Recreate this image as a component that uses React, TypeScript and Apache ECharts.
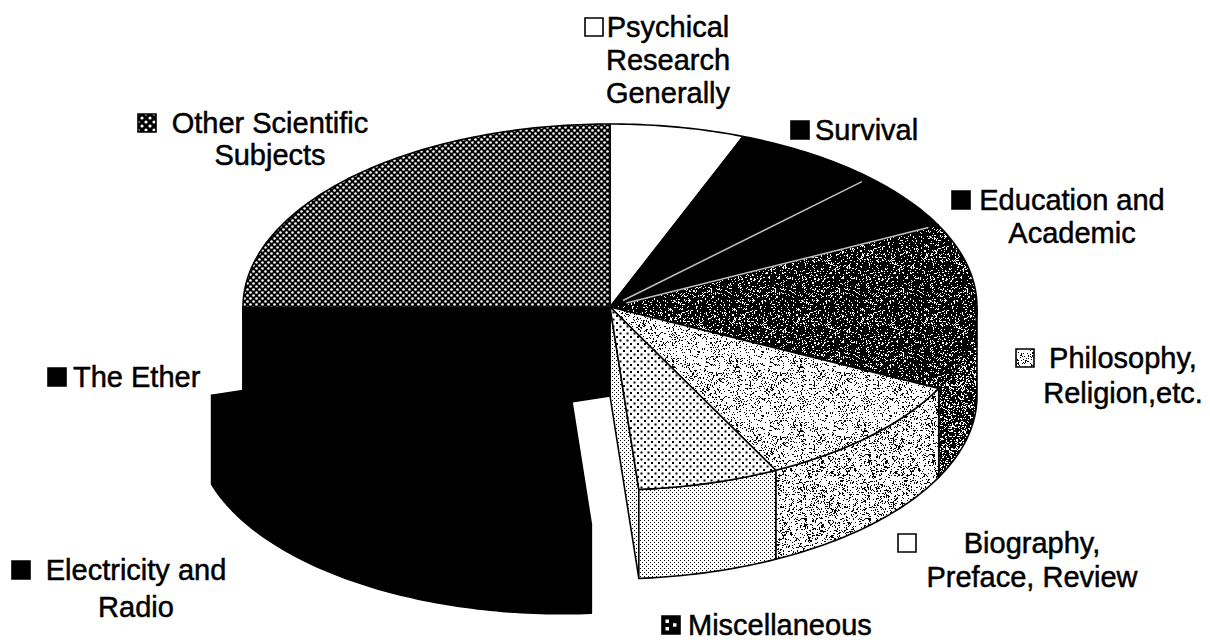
import React, { useEffect, useRef } from "react";
import * as echarts from "echarts";

// ---------- data ----------
const categories = [
  "Psychical Research Generally",
  "Survival",
  "Education and Academic",
  "Philosophy, Religion,etc.",
  "Biography, Preface, Review",
  "Miscellaneous",
  "Electricity and Radio",
  "The Ether",
  "Other Scientific Subjects",
];
const shares = [5.9, 6.6, 5.1, 14.7, 10.2, 6.2, 21.5, 4.7, 25.0];
const explodedFlags = [0, 0, 0, 0, 0, 0, 1, 0, 0];
const labelLines = [
  ["Psychical", "Research", "Generally"],
  ["Survival"],
  ["Education and", "Academic"],
  ["Philosophy,", "Religion,etc."],
  ["Biography,", "Preface, Review"],
  ["Miscellaneous"],
  ["Electricity and", "Radio"],
  ["The Ether"],
  ["Other Scientific", "Subjects"],
];

// ---------- layout / style ----------
const GEOM = { cx: 610, cy: 307, ra: 367, rb: 183, depth: 89, explode: 0.23 };
const FONT = '29px "Liberation Sans", Arial, sans-serif';
const KEY = 18;
const labelLayout = [
  { keyX: 585, x: 668, y: 27, gap: 33, align: "center" },
  { keyX: 791, x: 815, y: 130, gap: 33, align: "left" },
  { keyX: 952, x: 1072, y: 200, gap: 33, align: "center" },
  { keyX: 1016, x: 1123, y: 358, gap: 35, align: "center" },
  { keyX: 898, x: 1032, y: 543, gap: 34, align: "center" },
  { keyX: 662, x: 688, y: 625, gap: 33, align: "left" },
  { keyX: 12, x: 136, y: 570, gap: 37, align: "center" },
  { keyX: 48, x: 73, y: 377, gap: 33, align: "left" },
  { keyX: 138, x: 270, y: 123, gap: 32, align: "center" },
];
const whiteEdgeStart = [0, 0, 1, 1, 0, 0, 0, 0, 0];

const rad = (d: number) => (d * Math.PI) / 180;
function pt(deg: number, r: number, z: number, ox: number, oy: number) {
  const t = rad(deg);
  return [
    GEOM.cx + ox + GEOM.ra * r * Math.sin(t),
    GEOM.cy + oy - GEOM.rb * r * Math.cos(t) + z * GEOM.depth,
  ];
}
function arc(d1: number, d2: number, z: number, ox: number, oy: number) {
  const n = Math.max(2, Math.ceil(Math.abs(d2 - d1)) + 1);
  const out: number[][] = [];
  for (let i = 0; i < n; i++) out.push(pt(d1 + ((d2 - d1) * i) / (n - 1), 1, z, ox, oy));
  return out;
}

function tile(w: number, h: number, draw: (c: CanvasRenderingContext2D) => void) {
  const cv = document.createElement("canvas");
  cv.width = w;
  cv.height = h;
  const ctx = cv.getContext("2d") as CanvasRenderingContext2D;
  draw(ctx);
  return { image: cv.toDataURL(), repeat: "repeat", imageWidth: w, imageHeight: h };
}
const hsh = (x: number, y: number, s: number) => {
  const v = Math.sin(x * 127.1 + y * 311.7 + s * 74.7) * 43758.5453;
  return v - Math.floor(v);
};
function noise(size: number, thr: number, seed: number) {
  return tile(size, size, (c) => {
    c.fillStyle = "#fff";
    c.fillRect(0, 0, size, size);
    c.fillStyle = "#000";
    for (let y = 0; y < size; y++)
      for (let x = 0; x < size; x++) {
        const n = 0.65 * hsh(x, y, seed) + 0.35 * hsh(Math.floor(x / 2), Math.floor(y / 2), seed + 3);
        if (n < thr) c.fillRect(x, y, 1, 1);
      }
  });
}
function checker(size: number, r: number) {
  return tile(size, size, (c) => {
    c.fillStyle = "#000";
    c.fillRect(0, 0, size, size);
    c.fillStyle = "#fff";
    const q = size / 4;
    [[q, q], [3 * q, 3 * q]].forEach(([x, y]) => {
      c.beginPath();
      c.arc(x, y, r, 0, Math.PI * 2);
      c.fill();
    });
  });
}
function dots(size: number, d: number) {
  return tile(size, size, (c) => {
    c.fillStyle = "#fff";
    c.fillRect(0, 0, size, size);
    c.fillStyle = "#000";
    c.fillRect(0, 0, d, d);
    c.fillRect(size / 2, size / 2, d, d);
  });
}

export default function App() {
  const ref = useRef<HTMLDivElement>(null);
  useEffect(() => {
    document.body.style.margin = "0";
    if (!ref.current) return;
    const chart = echarts.init(ref.current, undefined, { renderer: "svg" });

    const black = "#000";
    const white = "#fff";
    const chk = checker(6, 1.3);
    const darkN = noise(64, 0.72, 1);
    const darkSide = noise(64, 0.66, 7);
    const lightN = noise(64, 0.28, 2);
    const lightSide = noise(64, 0.32, 5);
    const coarse = dots(7, 2);
    const fine = dots(4, 1);
    const TOP: any[] = [white, black, black, darkN, lightN, coarse, black, black, chk];
    const SIDE: any[] = [white, black, black, darkSide, lightSide, fine, black, black, chk];
    const WALL: any[] = [white, black, black, darkSide, lightSide, fine, black, black, chk];
    const KEYFILL: any[] = [white, black, black, lightSide, white, black, black, black, checker(8, 1.6)];

    const n = shares.length;
    const makeRender = (layer: string) => (params: any, api: any) => {
      const i = params.dataIndex;
      let total = 0;
      let before = 0;
      for (let k = 0; k < n; k++) {
        const v = api.value(0, k);
        total += v;
        if (k < i) before += v;
      }
      const d1 = (before / total) * 360;
      const d2 = ((before + api.value(0, i)) / total) * 360;
      const isEx = api.value(1, i) > 0;
      const prevEx = api.value(1, (i - 1 + n) % n) > 0;
      const nextEx = api.value(1, (i + 1) % n) > 0;
      let ox = 0;
      let oy = 0;
      if (isEx) {
        const m = rad((d1 + d2) / 2);
        ox = GEOM.ra * GEOM.explode * Math.sin(m);
        oy = -GEOM.rb * GEOM.explode * Math.cos(m);
      }
      const children: any[] = [];
      const st = (fill: any) => ({ fill, stroke: "#000", lineWidth: 1.6, lineJoin: "round" });
      const side = () => {
        const s1 = Math.max(d1, 90);
        const s2 = Math.min(d2, 270);
        if (s2 > s1)
          children.push({
            type: "polygon",
            shape: { points: arc(s1, s2, 0, ox, oy).concat(arc(s1, s2, 1, ox, oy).reverse()) },
            style: st(SIDE[i]),
          });
      };
      const wall = (deg: number) =>
        children.push({
          type: "polygon",
          shape: { points: [pt(deg, 0, 0, ox, oy), pt(deg, 1, 0, ox, oy), pt(deg, 1, 1, ox, oy), pt(deg, 0, 1, ox, oy)] },
          style: st(WALL[i]),
        });
      const top = () =>
        children.push({
          type: "polygon",
          shape: { points: [pt(0, 0, 0, ox, oy)].concat(arc(d1, d2, 0, ox, oy)) },
          style: st(TOP[i]),
        });
      const startVis = -Math.sin(rad(d1)) > 0.001;
      const endVis = Math.sin(rad(d2)) > 0.001;
      if (layer === "back" && !isEx) {
        if (prevEx && startVis) wall(d1);
        if (nextEx && endVis) wall(d2);
        side();
      } else if (layer === "top" && !isEx) {
        top();
        if (whiteEdgeStart[i]) {
          const a = pt(d1, 0.05, 0, ox, oy);
          const b = pt(d1, 0.97, 0, ox, oy);
          children.push({
            type: "line",
            shape: { x1: a[0], y1: a[1], x2: b[0], y2: b[1] },
            style: { stroke: "#fff", lineWidth: 1.5, opacity: 0.75 },
          });
        }
      } else if (layer === "explode" && isEx) {
        if (startVis) wall(d1);
        if (endVis) wall(d2);
        side();
        top();
      }
      return { type: "group", children };
    };

    const data = shares.map((v, i) => ({ name: categories[i], value: [v, explodedFlags[i]] }));
    const series = ["back", "top", "explode"].map((layer, li) => ({
      type: "custom",
      coordinateSystem: "none",
      silent: true,
      z: 2 + li,
      data,
      renderItem: makeRender(layer),
    }));

    const graphics: any[] = [];
    labelLayout.forEach((L, i) => {
      const lines = labelLines[i];
      graphics.push({
        type: "rect",
        shape: { x: L.keyX, y: L.y - KEY / 2, width: KEY, height: KEY },
        style: { fill: KEYFILL[i], stroke: "#000", lineWidth: 1.6 },
        z: 10,
      });
      if (i === 5) {
        [[3.5, 3.5], [3.5, 11], [11, 7.2]].forEach(([dx, dy]) =>
          graphics.push({
            type: "rect",
            shape: { x: L.keyX + dx, y: L.y - KEY / 2 + dy, width: 3.5, height: 3.5 },
            style: { fill: "#fff" },
            z: 11,
          })
        );
      }
      lines.forEach((t, j) => {
        graphics.push({
          type: "text",
          x: L.x,
          y: L.y + j * L.gap,
          z: 10,
          style: {
            text: t,
            font: FONT,
            fill: "#000",
            stroke: "#000",
            lineWidth: 0.5,
            textAlign: L.align,
            align: L.align,
            textVerticalAlign: "middle",
            verticalAlign: "middle",
          },
        });
      });
    });

    chart.setOption({
      animation: false,
      backgroundColor: "#fff",
      series,
      graphic: { elements: graphics },
    });
    return () => chart.dispose();
  }, []);
  return <div ref={ref} style={{ width: 1210, height: 642 }} />;
}
